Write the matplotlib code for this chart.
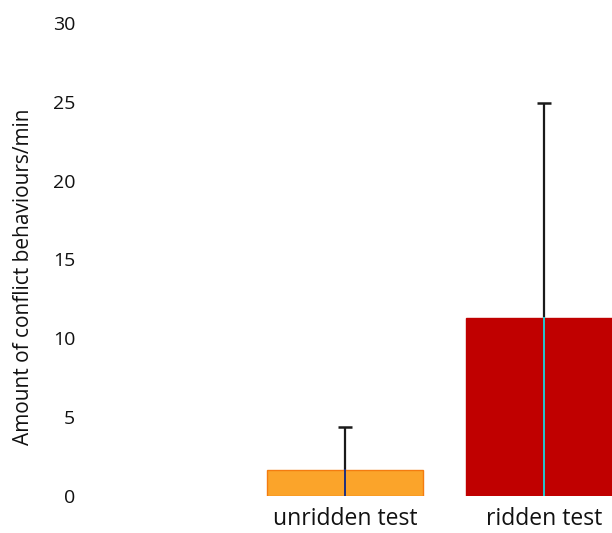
import matplotlib.pyplot as plt

# data
categories = ['unridden test', 'ridden test']
means = [1.65, 11.3]
upper_err = [2.7, 13.6]
bar_colors = ['#fba42a', '#c00000']
edge_colors = ['#f47c10', '#c00000']
inner_line_colors = ['#1f2f80', '#25c8d0']

plt.rcParams['font.family'] = ['Open Sans', 'DejaVu Sans']

fig = plt.figure(figsize=(6.12, 5.33), dpi=100)
W, H = 612, 533
# axes runs past the right edge, the reference is cropped there
left, right = 85, 640
bottom, top = 496, 23
ax = fig.add_axes([left / W, (H - bottom) / H, (right - left) / W, (bottom - top) / H])

x = [0, 1]
ax.bar(x, means, width=0.784, color=bar_colors, edgecolor=edge_colors, linewidth=1)
# upper error bars only, cap on top
tops = [m + e for m, e in zip(means, upper_err)]
ax.vlines(x, means, tops, color='#1a1a1a', linewidth=1.6)
ax.plot(x, tops, linestyle='none', marker='_', markersize=10,
        markeredgewidth=1.8, color='#1a1a1a')
# thin line inside each bar (lower half of the error bar)
for xi, m, c in zip(x, means, inner_line_colors):
    ax.plot([xi, xi], [0, m], color=c, linewidth=1.4)

ax.set_xlim((left - 345) / 199, (right - 345) / 199)
ax.set_ylim(0, 30)
ax.set_yticks(range(0, 31, 5))
ax.set_xticks(x)
ax.set_xticklabels(categories, fontsize=16.5, color='#111111')
ax.tick_params(axis='y', length=0, pad=7, labelsize=14, labelcolor='#111111')
ax.tick_params(axis='x', length=0, pad=8)
for s in ax.spines.values():
    s.set_visible(False)

fig.text(24 / W, (H - 277) / H, 'Amount of conflict behaviours/min', rotation=90,
         ha='center', va='center', fontsize=15, color='#111111')

fig.savefig('out.png', dpi=100)
